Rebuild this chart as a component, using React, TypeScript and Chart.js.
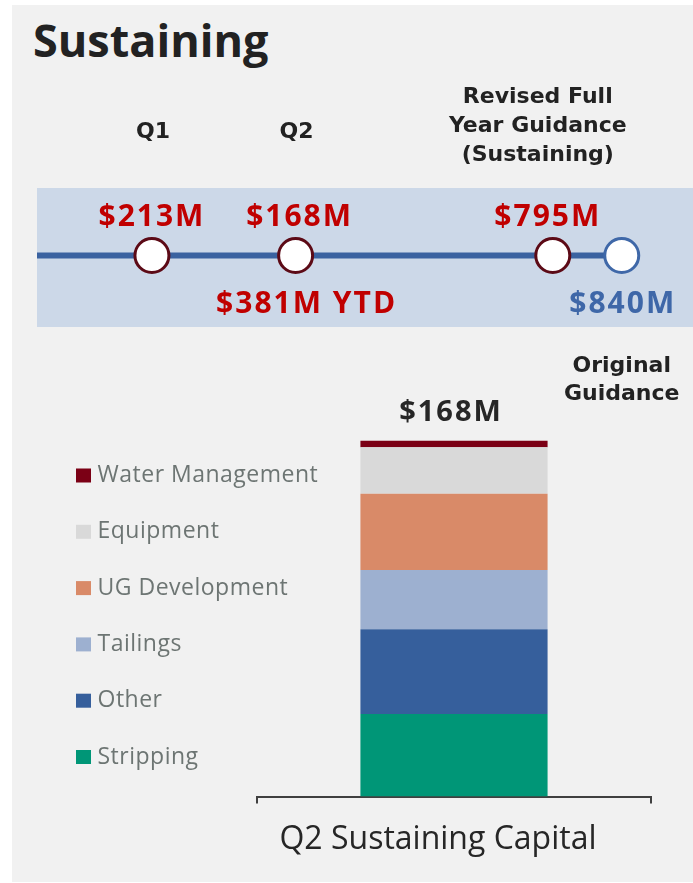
import React, { useEffect, useRef } from 'react';
import { Chart, registerables } from 'chart.js';

Chart.register(...registerables);
Chart.defaults.font.family = '"Open Sans", sans-serif';

// ---------- Timeline data ----------
const timelineNames = ['Q1', 'Q2', 'Revised Full Year Guidance (Sustaining)', 'Original Guidance'];
const timelinePositions = [1, 2, 3.79, 4.27]; // position along the year (quarters)
const timelineValues = [213, 168, 795, 840]; // $M
const ytdValue = 381; // $M, year to date after Q2
const timelineHeaders = [['Q1'], ['Q2'], ['Revised Full', 'Year Guidance', '(Sustaining)'], []];
const timelineFooters = [[], [], [], ['Original', 'Guidance']];
const timelineRange = [0.2, 4.766];

// ---------- Bar data ----------
const barCategories = ['Q2 Sustaining Capital'];
const seriesNames = ['Stripping', 'Other', 'Tailings', 'UG Development', 'Equipment', 'Water Management'];
const seriesValues = [39, 40, 28, 36, 22, 3]; // $M
const seriesColors = ['#009677', '#365f9c', '#9db0d0', '#d98a68', '#d9d9d9', '#7b0015'];

const fmt = (v: number) => `$${v}M`;

const timelinePlugin = {
  id: 'timelineDecor',
  beforeDatasetsDraw(chart: any) {
    const { ctx, chartArea } = chart;
    ctx.save();
    ctx.fillStyle = '#ccd8e8';
    ctx.fillRect(chartArea.left, chartArea.top, chartArea.right - chartArea.left, chartArea.bottom - chartArea.top);
    ctx.restore();
  },
  afterDatasetsDraw(chart: any) {
    const { ctx } = chart;
    const meta = chart.getDatasetMeta(0);
    const headerFirstBaseline = [-117.5, -117.5, -152.5, 0];
    const headerDx = [1, 1, -15, 0];
    const aboveDx = [0, 4, -5, 0];
    ctx.save();
    ctx.textAlign = 'center';
    ctx.textBaseline = 'alphabetic';
    meta.data.forEach((pt: any, i: number) => {
      const x = pt.x;
      const y = pt.y;
      ctx.letterSpacing = '0px';
      ctx.font = 'bold 22px "DejaVu Sans"';
      ctx.fillStyle = '#222222';
      timelineHeaders[i].forEach((line, k) => {
        ctx.fillText(line, x + headerDx[i], y + headerFirstBaseline[i] + k * 29);
      });
      timelineFooters[i].forEach((line, k) => {
        ctx.fillText(line, x, y + 116.5 + k * 28);
      });
      ctx.font = 'bold 30px "Open Sans"';
      ctx.letterSpacing = '2px';
      if (i < timelineValues.length - 1) {
        ctx.fillStyle = '#c00000';
        ctx.fillText(fmt(timelineValues[i]), x + aboveDx[i], y - 29.5);
      } else {
        ctx.fillStyle = '#3e67a8';
        ctx.fillText(fmt(timelineValues[i]), x + 1, y + 57.5);
      }
      if (i === 1) {
        ctx.fillStyle = '#c00000';
        ctx.fillText(`${fmt(ytdValue)} YTD`, x + 11, y + 57.5);
      }
    });
    ctx.restore();
  },
};

const barDecorPlugin = {
  id: 'barDecor',
  afterDatasetsDraw(chart: any) {
    const { ctx } = chart;
    const meta = chart.getDatasetMeta(chart.data.datasets.length - 1);
    const bar = meta.data[0];
    if (!bar) return;
    const total = seriesValues.reduce((a, b) => a + b, 0);
    ctx.save();
    ctx.font = 'bold 29px "Open Sans"';
    ctx.letterSpacing = '2px';
    ctx.fillStyle = '#262626';
    ctx.textAlign = 'center';
    ctx.textBaseline = 'alphabetic';
    ctx.fillText(fmt(total), bar.x - 3, bar.y - 19.5);
    ctx.restore();
  },
  afterDraw(chart: any) {
    // legend, top row = last (topmost) dataset
    const { ctx } = chart;
    const ds = chart.data.datasets;
    const boxX = 64;
    const textX = 85.5;
    const firstRowY = 135.5;
    const rowGap = 56.3;
    ctx.save();
    ctx.font = '23px "Open Sans"';
    ctx.letterSpacing = '0.5px';
    ctx.textAlign = 'left';
    ctx.textBaseline = 'middle';
    for (let r = 0; r < ds.length; r++) {
      const d = ds[ds.length - 1 - r];
      const y = firstRowY + r * rowGap;
      ctx.fillStyle = d.backgroundColor;
      ctx.fillRect(boxX, y - 7, 15, 14);
      ctx.fillStyle = '#6d7573';
      ctx.fillText(d.label, textX, y);
    }
    ctx.restore();
  },
};

function Timeline() {
  const ref = useRef<HTMLCanvasElement>(null);
  useEffect(() => {
    if (!ref.current) return;
    const chart = new Chart(ref.current, {
      type: 'line',
      data: {
        datasets: [
          {
            label: 'Milestones',
            data: timelinePositions.map((x) => ({ x, y: 0 })),
            showLine: false,
            pointRadius: 17,
            pointBackgroundColor: '#ffffff',
            pointBorderColor: ['#5c0a16', '#5c0a16', '#5c0a16', '#3f68a8'],
            pointBorderWidth: 3,
          },
          {
            label: 'Timeline',
            data: [{ x: timelineRange[0], y: 0 }, ...timelinePositions.map((x) => ({ x, y: 0 }))],
            borderColor: '#3a62a0',
            borderWidth: 6,
            pointRadius: 0,
            tension: 0,
          },
        ],
      },
      options: {
        responsive: false,
        animation: false,
        events: [],
        layout: { autoPadding: false, padding: { top: 118, bottom: 83, left: 0, right: 0 } },
        plugins: { legend: { display: false }, tooltip: { enabled: false } },
        scales: {
          x: { type: 'linear', min: timelineRange[0], max: timelineRange[1], display: false },
          y: { min: -1.06, max: 1, display: false },
        },
      },
      plugins: [timelinePlugin],
    } as any);
    return () => chart.destroy();
  }, []);
  return (
    <canvas
      ref={ref}
      width={656}
      height={340}
      style={{ position: 'absolute', left: 37, top: 70, width: 656, height: 340 }}
    />
  );
}

function BarChart() {
  const ref = useRef<HTMLCanvasElement>(null);
  useEffect(() => {
    if (!ref.current) return;
    const chart = new Chart(ref.current, {
      type: 'bar',
      data: {
        labels: barCategories,
        datasets: seriesNames.map((name, i) => ({
          label: name,
          data: [seriesValues[i]],
          backgroundColor: seriesColors[i],
          borderWidth: 0,
          categoryPercentage: 1,
          barPercentage: 0.475,
        })),
      },
      options: {
        responsive: false,
        animation: false,
        events: [],
        layout: { autoPadding: false, padding: { left: 245, right: 42, top: 33, bottom: 6 } },
        plugins: {
          legend: { display: false },
          tooltip: { enabled: false },
        },
        scales: {
          x: {
            stacked: true,
            grid: { display: true, drawOnChartArea: false, drawTicks: true, tickLength: 7, color: '#404040', lineWidth: 2 },
            border: { display: true, color: '#404040', width: 2 },
            ticks: { color: '#262626', font: { family: '"Open Sans"', size: 32 }, padding: 17, labelOffset: -16 },
          },
          y: { stacked: true, display: false, min: 0, max: 200 },
        },
      },
      plugins: [barDecorPlugin],
    } as any);
    return () => chart.destroy();
  }, []);
  return (
    <canvas
      ref={ref}
      width={681}
      height={542}
      style={{ position: 'absolute', left: 12, top: 340, width: 681, height: 542 }}
    />
  );
}

export default function App() {
  return (
    <div style={{ position: 'absolute', left: 0, top: 0, width: 693, height: 883 }}>
      <div style={{ position: 'absolute', left: 12, top: 5, width: 681, height: 877, background: '#f1f1f1' }} />
      <div
        style={{
          position: 'absolute',
          left: 33,
          top: 17,
          fontFamily: '"Open Sans", sans-serif',
          fontWeight: 700,
          fontSize: 45,
          lineHeight: '45px',
          color: '#222222',
          whiteSpace: 'nowrap',
        }}
      >
        Sustaining
      </div>
      <BarChart />
      <Timeline />
    </div>
  );
}
